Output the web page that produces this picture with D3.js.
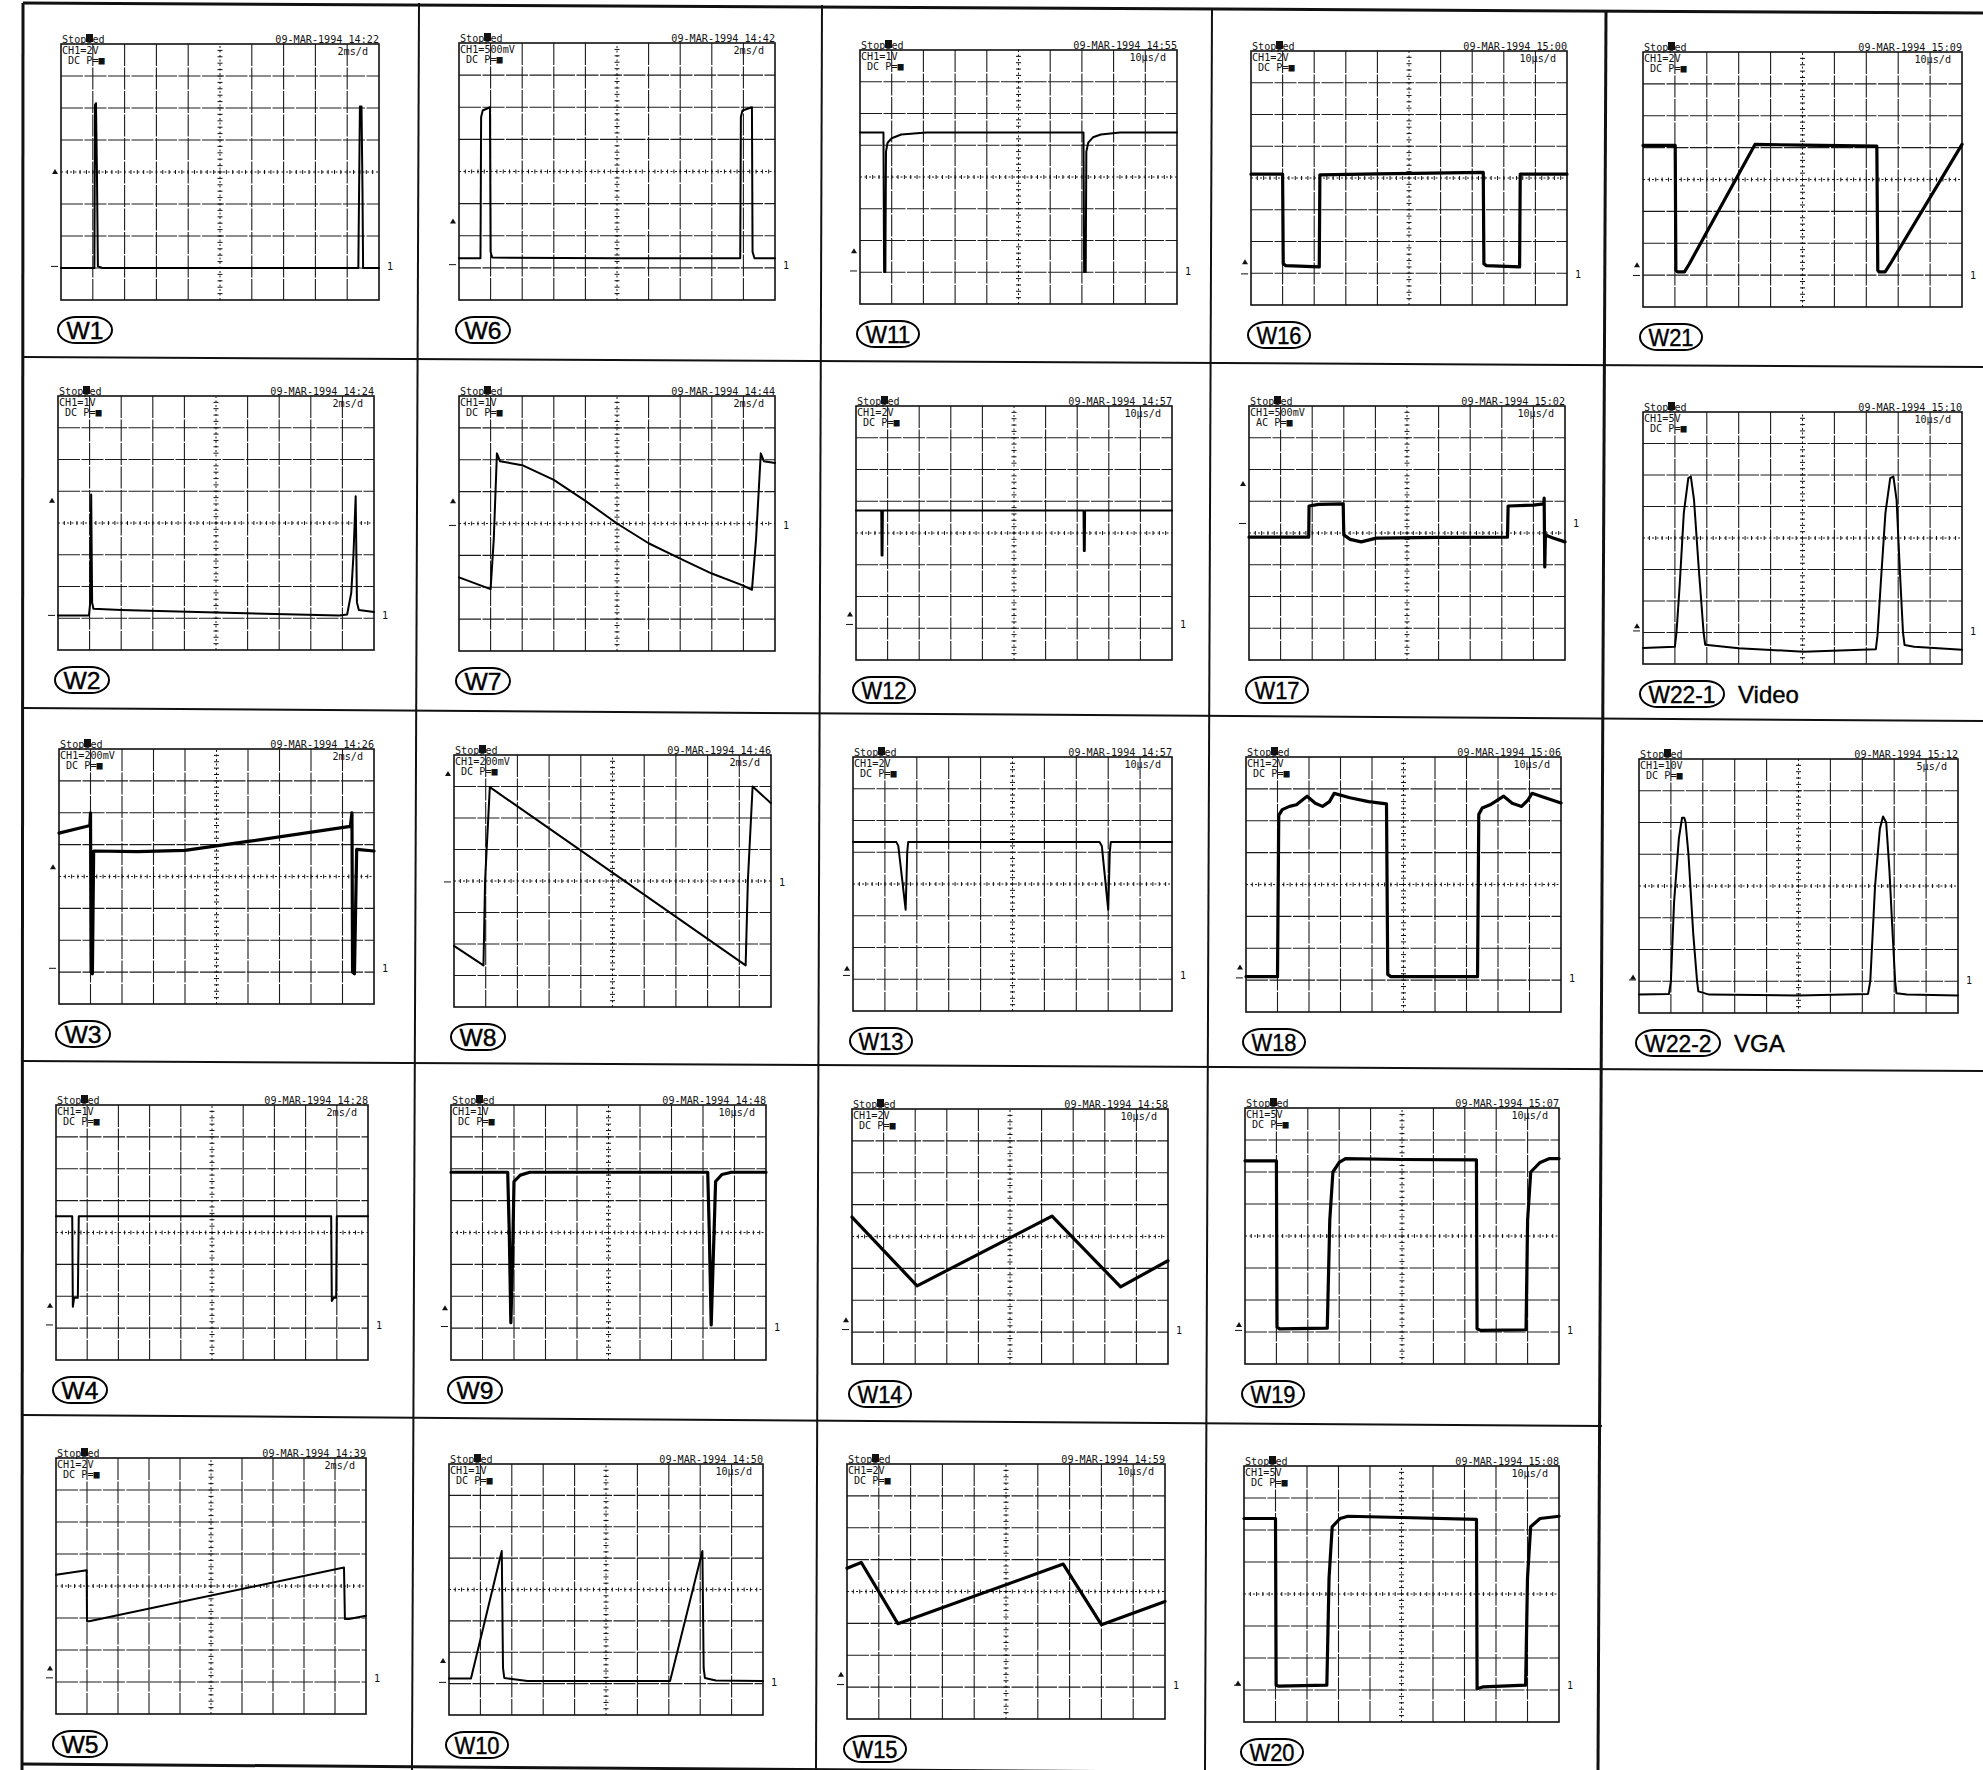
<!DOCTYPE html>
<html>
<head>
<meta charset="utf-8">
<script src="https://cdnjs.cloudflare.com/ajax/libs/d3/7.8.5/d3.min.js"></script>
<style>
  body { margin: 0; background: #fff; }
  svg { display: block; background: #fff; }
  .frame { stroke: #111; fill: none; }
  .grid { stroke: #1c1c1c; stroke-width: 1.1; stroke-dasharray: 22,1.5; }
  .axis { stroke: #1c1c1c; stroke-width: 1; stroke-dasharray: 2,2.5; }
  .tick { stroke: #111; stroke-width: 1; }
  .trace { fill: none; stroke: #000; stroke-linejoin: round; stroke-linecap: round; }
  .scope { font-family: "DejaVu Sans Mono", monospace; font-size: 11px; fill: #111; }
  .tag { font-family: "Liberation Sans", Arial, sans-serif; font-size: 24px; fill: #000; stroke: #000; stroke-width: 0.4; }
</style>
</head>
<body>
<svg width="1983" height="1770"></svg>
<script>

//Readings taken off the printouts, panel order W1..W22-2
var panelIds = ["W1","W2","W3","W4","W5","W6","W7","W8","W9","W10","W11","W12","W13","W14","W15","W16","W17","W18","W19","W20","W21","W22-1","W22-2"];
var captions = ["","","","","","","","","","","","","","","","","","","","","","Video","VGA"];
var stampTimes = ["14:22","14:24","14:26","14:28","14:39","14:42","14:44","14:46","14:48","14:50","14:55","14:57","14:57","14:58","14:59","15:00","15:02","15:06","15:07","15:08","15:09","15:10","15:12"];
var voltsPerDiv = ["2V","1V","200mV","1V","2V","500mV","1V","200mV","1V","1V","1V","2V","2V","2V","2V","2V","500mV","2V","5V","5V","2V","5V","10V"];
var couplings = ["DC","DC","DC","DC","DC","DC","DC","DC","DC","DC","DC","DC","DC","DC","DC","DC","AC","DC","DC","DC","DC","DC","DC"];
var timePerDiv = ["2ms","2ms","2ms","2ms","2ms","2ms","2ms","2ms","10µs","10µs","10µs","10µs","10µs","10µs","10µs","10µs","10µs","10µs","10µs","10µs","10µs","10µs","5µs"];

//ground ("1") and trigger levels, in divisions from the bottom of the screen
var groundLevels = [1.05,1.09,1.12,1.1,1.13,1.1,3.94,3.97,1.05,1.04,1.04,1.12,1.12,1.08,1.08,0.98,4.3,1.07,1.05,1.15,0.99,1.05,1.04];
var triggerLevels = [4.0,4.7,4.29,1.7,1.42,2.44,4.7,7.4,1.62,1.72,1.66,1.43,1.33,1.37,1.39,1.35,5.54,1.4,1.22,1.2,1.31,1.2,1.12];

//traces: [time div (0..10), volt div (0..8)]
var w1 = [[0,1.0],[1.05,1.0],[1.07,6.1],[1.1,6.15],[1.13,4.0],[1.16,1.05],[1.3,1.0],[9.35,1.0],[9.4,6.05],[9.45,6.05],[9.48,3.5],[9.5,1.0],[10,1.0]];
var w2 = [[0,1.09],[0.98,1.09],[1.02,1.5],[1.05,4.9],[1.08,1.5],[1.12,1.3],[2,1.26],[5,1.18],[8.9,1.09],[9.15,1.12],[9.28,1.8],[9.35,3.0],[9.42,4.84],[9.46,1.5],[9.52,1.26],[10,1.2]];
var w3 = [[0,5.36],[0.86,5.57],[0.98,5.6],[1.0,6.0],[1.02,1.0],[1.06,0.95],[1.1,4.8],[2.5,4.78],[4.0,4.82],[6,5.1],[9.25,5.57],[9.3,6.0],[9.32,1.0],[9.38,0.95],[9.45,4.85],[10,4.8]];
var w4 = [[0,4.51],[0.52,4.51],[0.54,1.67],[0.58,1.95],[0.7,1.95],[0.73,4.51],[8.82,4.51],[8.84,1.85],[8.9,1.95],[8.98,1.95],[9.0,4.51],[10,4.51]];
var w5 = [[0,4.35],[0.99,4.49],[1.0,2.9],[1.07,2.9],[9.29,4.58],[9.32,2.97],[9.45,2.97],[10,3.07]];
var w6 = [[0,1.3],[0.68,1.3],[0.7,5.7],[0.75,5.9],[0.98,6.0],[1.0,1.5],[1.05,1.32],[5,1.3],[8.9,1.3],[8.92,5.7],[8.97,5.9],[9.27,6.0],[9.29,1.5],[9.35,1.3],[10,1.3]];
var w7 = [[0,2.31],[1.0,1.94],[1.1,3.5],[1.2,6.2],[1.3,5.95],[2,5.83],[3,5.37],[4,4.71],[5,4.0],[6,3.38],[7,2.9],[8,2.43],[9,2.05],[9.27,1.92],[9.4,3.5],[9.55,6.2],[9.65,5.95],[10,5.9]];
var w8 = [[0,1.94],[0.93,1.32],[0.98,4.0],[1.13,6.98],[9.2,1.32],[9.27,4.0],[9.42,7.0],[10,6.47]];
var w9 = [[0,5.89],[1.8,5.89],[1.85,4],[1.9,1.17],[1.95,3],[2.0,5.6],[2.2,5.8],[2.5,5.89],[8.15,5.89],[8.2,4],[8.26,1.1],[8.32,3],[8.4,5.6],[8.6,5.82],[8.9,5.89],[10,5.89]];
var w10 = [[0,1.16],[0.7,1.16],[1.68,5.23],[1.72,1.5],[1.76,1.18],[2.5,1.08],[7.04,1.08],[8.07,5.23],[8.11,1.5],[8.15,1.18],[8.5,1.1],[10,1.08]];
var w11 = [[0,5.4],[0.74,5.4],[0.76,1.01],[0.8,1.01],[0.82,4.8],[0.87,5.08],[1.0,5.22],[1.3,5.34],[2.1,5.4],[7.05,5.4],[7.07,1.01],[7.12,1.01],[7.14,4.8],[7.2,5.08],[7.35,5.25],[7.6,5.34],[8.2,5.4],[10,5.4]];
var w12 = [[0,4.71],[0.8,4.71],[0.81,3.29],[0.84,3.29],[0.85,4.71],[7.2,4.71],[7.21,3.43],[7.24,3.43],[7.25,4.71],[10,4.71]];
var w13 = [[0,5.32],[1.36,5.32],[1.42,5.2],[1.65,3.19],[1.7,5.0],[1.73,5.32],[7.73,5.32],[7.8,5.2],[8.0,3.19],[8.05,5.0],[8.08,5.32],[10,5.32]];
var w14 = [[0,4.61],[2.06,2.45],[6.33,4.64],[8.5,2.42],[10,3.24]];
var w15 = [[0,4.73],[0.45,4.91],[1.6,2.99],[6.8,4.86],[8.0,2.96],[10,3.69]];
var w16 = [[0,4.12],[1.0,4.12],[1.02,1.3],[1.1,1.24],[2.16,1.2],[2.18,4.1],[4,4.13],[7.35,4.18],[7.37,1.3],[7.45,1.24],[8.5,1.2],[8.52,4.12],[10,4.12]];
var w17 = [[0,3.87],[1.89,3.87],[1.9,4.85],[2.2,4.9],[2.98,4.92],[3.0,3.94],[3.2,3.8],[3.55,3.72],[4.03,3.84],[6,3.86],[8.18,3.87],[8.2,4.85],[9.0,4.88],[9.33,4.92],[9.34,5.1],[9.36,2.93],[9.38,3.94],[9.6,3.85],[10,3.72]];
var w18 = [[0,1.11],[1.0,1.11],[1.04,6.17],[1.15,6.35],[1.38,6.45],[1.6,6.5],[1.94,6.77],[2.2,6.55],[2.43,6.45],[2.65,6.6],[2.8,6.86],[3.3,6.72],[3.89,6.6],[4.46,6.53],[4.5,1.18],[4.6,1.11],[7.35,1.11],[7.39,6.2],[7.5,6.4],[7.75,6.5],[8.18,6.77],[8.45,6.55],[8.75,6.45],[8.95,6.65],[9.08,6.86],[9.5,6.72],[10,6.56]];
var w19 = [[0,6.35],[1.0,6.35],[1.02,1.15],[1.1,1.1],[2.62,1.12],[2.7,4.5],[2.8,6.0],[3.0,6.3],[3.2,6.42],[5,6.39],[7.37,6.38],[7.39,1.1],[7.5,1.05],[8.95,1.07],[9.0,4.5],[9.1,6.0],[9.4,6.3],[9.7,6.42],[10,6.42]];
var w20 = [[0,6.36],[1.0,6.36],[1.02,1.15],[1.1,1.12],[2.63,1.15],[2.7,4.5],[2.8,6.1],[3.05,6.36],[3.3,6.43],[5,6.39],[7.38,6.33],[7.4,1.04],[7.6,1.1],[8.94,1.15],[9.0,4.5],[9.1,6.1],[9.4,6.36],[10,6.43]];
var w21 = [[0,5.07],[1.01,5.07],[1.03,1.15],[1.08,1.1],[1.3,1.1],[1.45,1.35],[3.51,5.1],[5,5.08],[7.33,5.05],[7.36,1.15],[7.4,1.1],[7.59,1.1],[7.75,1.35],[10,5.1]];
var w22a = [[0,0.51],[1.0,0.55],[1.05,1.0],[1.15,2.5],[1.28,4.8],[1.42,5.9],[1.5,5.95],[1.6,5.2],[1.75,3.0],[1.9,1.0],[1.95,0.61],[3,0.5],[5.03,0.39],[7.3,0.47],[7.35,0.9],[7.45,2.5],[7.6,4.8],[7.75,5.9],[7.85,5.95],[7.95,5.2],[8.05,3.0],[8.15,1.0],[8.2,0.6],[8.5,0.55],[10,0.45]];
var w22b = [[0,0.58],[0.94,0.6],[1.0,1.0],[1.02,1.5],[1.1,3.5],[1.25,5.5],[1.35,6.15],[1.42,6.15],[1.46,6.0],[1.55,5.0],[1.7,2.5],[1.82,1.0],[1.86,0.68],[2.2,0.58],[5,0.55],[7.18,0.6],[7.25,1.0],[7.3,2.0],[7.4,4.0],[7.55,5.8],[7.65,6.19],[7.75,6.0],[7.85,4.5],[7.95,2.5],[8.03,1.0],[8.07,0.62],[8.4,0.58],[10,0.55]];
var traces = [w1,w2,w3,w4,w5,w6,w7,w8,w9,w10,w11,w12,w13,w14,w15,w16,w17,w18,w19,w20,w21,w22a,w22b];

//page layout: screen rectangles [left, top, right, bottom]
var screenBoxes = [
	[61,44,379,300],[58,396,374,650],[59,749,374,1004],[56,1105,368,1360],[56,1458,366,1714],
	[459,43,775,300],[459,396,775,651],[454,755,771,1007],[451,1105,766,1360],[449,1464,763,1715],
	[860,50,1177,304],[856,406,1172,660],[853,757,1172,1011],[852,1109,1168,1364],[847,1464,1165,1719],
	[1251,51,1567,305],[1249,406,1565,660],[1246,757,1561,1012],[1245,1108,1559,1364],[1244,1466,1559,1722],
	[1643,52,1962,307],[1643,412,1962,664],[1639,759,1958,1013]
];
var heavyTraces = ["W3","W9","W14","W15","W16","W17","W18","W19","W20","W21"];

var svg = d3.select("svg");

drawCells();
panelIds.forEach(function(id, i) { drawPanel(i); });


//the ruled table the photos were pasted into
function drawCells() {
	var rules = [
		[23,3,1983,13,3],            // top
		[23,357,1983,367,2],
		[23,708,1983,721,2],
		[23,1061,1983,1071,2],
		[23,1415,1602,1426,2],
		[23,1764,1600,1775,3],       // bottom
		[23,3,22,1770,3],            // left
		[419,3,412,1770,2],
		[822,5,816,1770,2],
		[1212,8,1205,1770,2],
		[1606,11,1598,1770,3]
	];
	svg.append("g").selectAll("line")
		.data(rules)
		.enter().append("line")
		  .attr("class", "frame")
		  .attr("x1", function(d) { return d[0]; })
		  .attr("y1", function(d) { return d[1]; })
		  .attr("x2", function(d) { return d[2]; })
		  .attr("y2", function(d) { return d[3]; })
		  .attr("stroke-width", function(d) { return d[4]; });
}


//monospace printer text, squeezed to the plotter's pitch
function scopeText(g, px, py, str, anchor) {
	return g.append("text").attr("class", "scope")
		.attr("x", px).attr("y", py)
		.attr("text-anchor", anchor || "start")
		.attr("textLength", str.length * 6.1)
		.attr("lengthAdjust", "spacingAndGlyphs")
		.text(str);
}


function drawPanel(i) {
	var id = panelIds[i];
	var box = screenBoxes[i];

	var x = d3.scaleLinear().domain([0, 10]).range([box[0], box[2]]);
	var y = d3.scaleLinear().domain([0, 8]).range([box[3], box[1]]);

	var g = svg.append("g").attr("class", "panel");

	// graticule
	g.selectAll("line.vg")
		.data(d3.range(1, 10).filter(function(d) { return d !== 5; }))
		.enter().append("line")
		  .attr("class", "grid")
		  .attr("x1", function(d) { return x(d); }).attr("x2", function(d) { return x(d); })
		  .attr("y1", y(8)).attr("y2", y(0));

	g.selectAll("line.hg")
		.data(d3.range(1, 8).filter(function(d) { return d !== 4; }))
		.enter().append("line")
		  .attr("class", "grid")
		  .attr("x1", x(0)).attr("x2", x(10))
		  .attr("y1", function(d) { return y(d); }).attr("y2", function(d) { return y(d); });

	// centre axes, dotted with fifth-division ticks
	g.append("line").attr("class", "axis")
		.attr("x1", x(0)).attr("x2", x(10)).attr("y1", y(4)).attr("y2", y(4));
	g.append("line").attr("class", "axis")
		.attr("x1", x(5)).attr("x2", x(5)).attr("y1", y(0)).attr("y2", y(8));

	g.selectAll("line.ht")
		.data(d3.range(0.2, 10, 0.2))
		.enter().append("line")
		  .attr("class", "tick")
		  .attr("x1", function(d) { return x(d); }).attr("x2", function(d) { return x(d); })
		  .attr("y1", y(4) - 2).attr("y2", y(4) + 2);

	g.selectAll("line.vt")
		.data(d3.range(0.2, 8, 0.2))
		.enter().append("line")
		  .attr("class", "tick")
		  .attr("x1", x(5) - 2.5).attr("x2", x(5) + 2.5)
		  .attr("y1", function(d) { return y(d); }).attr("y2", function(d) { return y(d); });

	g.append("rect")
		.attr("class", "frame")
		.attr("stroke-width", 1.6)
		.attr("x", x(0)).attr("y", y(8))
		.attr("width", x(10) - x(0)).attr("height", y(0) - y(8));

	// the waveform
	var line = d3.line()
		.x(function(d) { return x(d[0]); })
		.y(function(d) { return y(d[1]); });

	g.append("path")
		.datum(traces[i])
		.attr("class", "trace")
		.attr("stroke-width", heavyTraces.indexOf(id) >= 0 ? 3.2 : 2)
		.attr("d", line);

	// ground / trigger markers
	var gy = y(groundLevels[i]);
	var ty = y(triggerLevels[i]);
	g.append("line").attr("class", "tick").attr("stroke-width", 1.3)
		.attr("x1", x(0) - 10).attr("x2", x(0) - 3).attr("y1", gy).attr("y2", gy);
	g.append("path")
		.attr("fill", "#111")
		.attr("d", "M" + (x(0) - 9) + "," + (ty + 2) + "l3,-5l3,5z");
	scopeText(g, x(10) + 8, gy + 4, "1");

	// printout header
	scopeText(g, x(0) + 1, y(8) - 1.5, "Stopped");
	g.append("rect")
		.attr("fill", "#111")
		.attr("x", x(0) + 25).attr("y", y(8) - 10)
		.attr("width", 7).attr("height", 8);
	scopeText(g, x(10), y(8) - 1.5, "09-MAR-1994 " + stampTimes[i], "end");
	scopeText(g, x(0) + 1, y(8) + 9.5, "CH1=" + voltsPerDiv[i]);
	scopeText(g, x(0) + 7, y(8) + 19.5, couplings[i] + " P=■");
	scopeText(g, x(10) - 11, y(8) + 10.5, timePerDiv[i] + "/d", "end");

	// waveform tag in its rounded outline
	var w = id.length > 3 ? 84 : (id.length > 2 ? 62 : 54);
	var left = x(0) - 3;
	var cy = y(0) + 30;
	g.append("rect")
		.attr("x", left).attr("y", cy - 13)
		.attr("width", w).attr("height", 26)
		.attr("rx", 18).attr("ry", 13)
		.attr("fill", "none").attr("stroke", "#000").attr("stroke-width", 2);
	g.append("text").attr("class", "tag")
		.attr("x", left + w / 2).attr("y", cy + 8.5)
		.attr("text-anchor", "middle")
		.attr("textLength", w - 17)
		.attr("lengthAdjust", "spacingAndGlyphs")
		.text(id);
	if (captions[i]) {
		g.append("text").attr("class", "tag")
			.attr("x", left + w + 14).attr("y", cy + 9)
			.text(captions[i]);
	}
}

</script>
</body>
</html>
